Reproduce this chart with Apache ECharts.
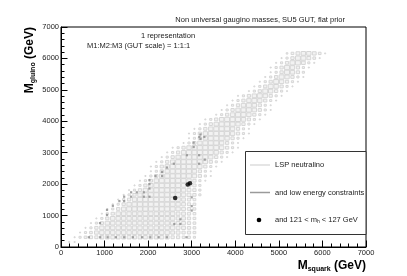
<!DOCTYPE html>
<html>
<head>
<meta charset="utf-8">
<script src="https://cdn.jsdelivr.net/npm/echarts@6/dist/echarts.min.js"></script>
<style>
html,body{margin:0;padding:0;background:#fff;}
#c{width:407px;height:276px;}
</style>
</head>
<body>
<div id="c"></div>
<script>
// ---- data ----
const xBinWidth = 125;   // GeV, squark-mass bin
const yBinWidth = 150;   // GeV, gluino-mass bin
const rowY = [160,310,460,610,760,910,1060,1210,1360,1510,1660,1810,1960,2110,2260,2410,2560,2710,2860,3010,3160,3310,3460,3610,3760,3910,4060,4210,4360,4510,4660,4810,4960,5110,5260,5410,5560,5710,5860,6010,6160];
const rowStart = [1,2,3,4,5,6,7,8,9,10,11,12,13,14,15,16,16,17,18,19,20,22,23,23,24,25,26,28,29,30,31,32,34,35,36,37,38,38,39,40,41];
// box size per bin (0-9), one string per row, starting at rowStart bin
const rowCells = [
 "22",
 "24566777777777777766554",
 "2457888888888888877665",
 "246888888888888887765",
 "24688888888888887765",
 "2468888888888887765",
 "246888889888887765",
 "24689999999998765",
 "2468999999998765",
 "246899999998765",
 "246899999998764",
 "24689999998764",
 "2468999998764",
 "2468999998642",
 "2468999998642",
 "246899998642",
 "2468999998642",
 "2468999998642",
 "2468999998642",
 "2468999998642",
 "2468999998642",
 "24689998642",
 "24689998642",
 "246899998642",
 "24689998642",
 "24689998642",
 "24689998642",
 "2468998642",
 "2468998642",
 "246898642",
 "246898642",
 "246898642",
 "24698642",
 "24698642",
 "24698642",
 "24698642",
 "2469864",
 "24698642",
 "24699742",
 "24699752",
 "35788752"
];
// "and low energy constraints" points
const lowX = [640,900,1070,1260,1450,1650,1860,2050,2240,2430,2880,
  895,1056,1056,1190,1340,1450,1450,1610,1610,1740,1900,1900,2030,2030,2030,2030,2170,2320,2320,2430,2590,2600,2740,2740,2890,3045,3045,3200,3200,3000,3000,3000,3170,3170,3300,3175,3290];
const lowY = [310,310,310,310,310,310,310,310,310,310,310,
  760,1180,1020,1310,1460,1600,1460,1740,1600,1740,1740,1600,2130,2000,1860,1600,2260,2390,2260,2530,2650,730,880,730,2920,3180,3320,3440,3580,1580,1300,1160,2650,2920,2780,3500,3500];
// "and 121 < m_h < 127 GeV" points
const higgsX = [2620, 2910, 2960];
const higgsY = [1560, 1990, 2030];
// axis ticks
const axisMin = 0, axisMax = 7000, axisStep = 1000;

// ---- build ----
const boxData = [];
rowCells.forEach((s, r) => {
  for (let i = 0; i < s.length; i++) {
    const d = +s[i];
    if (d > 0) boxData.push([(rowStart[r] + i) * xBinWidth + xBinWidth / 2, rowY[r], d]);
  }
});
const lowData = lowX.map((x, i) => [x, lowY[i]]);
const higgsData = higgsX.map((x, i) => [x, higgsY[i]]);

const FONT = "'Liberation Sans', Arial, Helvetica, sans-serif";
const chart = echarts.init(document.getElementById('c'), null, {renderer: 'canvas'});

const axisCommon = {
  type: 'value', min: axisMin, max: axisMax, interval: axisStep,
  axisLine: {show: true, lineStyle: {color: '#000', width: 1}},
  axisTick: {show: true, inside: true, length: 6.5, lineStyle: {color: '#000', width: 1}},
  minorTick: {show: true, splitNumber: 5, length: 3.5, lineStyle: {color: '#000', width: 1}},
  splitLine: {show: false},
  axisLabel: {fontFamily: FONT, fontSize: 7.5, color: '#222', margin: 2, formatter: v => String(v)}
};

chart.setOption({
  animation: false,
  backgroundColor: '#fff',
  grid: {left: 61, right: 41, top: 27, bottom: 29, show: true, borderColor: '#000', borderWidth: 1, backgroundColor: 'transparent'},
  xAxis: Object.assign({}, axisCommon),
  yAxis: Object.assign({}, axisCommon),
  series: [
    {
      type: 'custom',
      data: boxData,
      z: 2,
      renderItem: function (params, api) {
        const c = api.coord([api.value(0), api.value(1)]);
        const s = api.size([xBinWidth, yBinWidth]);
        const f = api.value(2) / 10;
        const w = s[0] * f, h = s[1] * f;
        return {
          type: 'rect',
          shape: {x: c[0] - w / 2, y: c[1] - h / 2, width: w, height: h},
          style: {fill: '#f2f2f2', stroke: '#d6d6d6', lineWidth: 1}
        };
      }
    },
    {
      type: 'scatter', data: lowData, symbol: 'rect', symbolSize: 2.2, z: 3,
      itemStyle: {color: '#8c8c8c'}
    },
    {
      type: 'scatter', data: higgsData, symbol: 'circle', symbolSize: 4.6, z: 4,
      itemStyle: {color: '#000'}
    }
  ],
  graphic: [
    {type: 'text', x: 345, y: 19.5, style: {text: 'Non universal gaugino masses, SU5 GUT, flat prior', font: '7.5px ' + FONT, fill: '#222', align: 'right', verticalAlign: 'middle'}},
    {type: 'text', x: 168, y: 35.5, style: {text: '1 representation', font: '7.5px ' + FONT, fill: '#222', align: 'center', verticalAlign: 'middle'}},
    {type: 'text', x: 87, y: 45.5, style: {text: 'M1:M2:M3 (GUT scale) = 1:1:1', font: '7.5px ' + FONT, fill: '#222', align: 'left', verticalAlign: 'middle'}},
    {type: 'text', x: 366, y: 266, style: {
      text: '{n|M}{s|squark}{n| (GeV)}', align: 'right', verticalAlign: 'middle',
      rich: {n: {font: 'bold 12px ' + FONT, lineHeight: 14, fill: '#000'}, s: {font: 'bold 7px ' + FONT, lineHeight: 7, verticalAlign: 'bottom', fill: '#000'}}
    }},
    {type: 'text', x: 30, y: 27, rotation: Math.PI / 2, style: {
      text: '{n|M}{s|gluino}{n| (GeV)}', align: 'right', verticalAlign: 'middle',
      rich: {n: {font: 'bold 12px ' + FONT, lineHeight: 14, fill: '#000'}, s: {font: 'bold 7px ' + FONT, lineHeight: 7, verticalAlign: 'bottom', fill: '#000'}}
    }},
    // legend box
    {type: 'rect', z: 100, shape: {x: 245.5, y: 151.5, width: 120.5, height: 83}, style: {fill: '#fff', stroke: '#333', lineWidth: 1}},
    {type: 'line', z: 101, shape: {x1: 250, y1: 165, x2: 270, y2: 165}, style: {stroke: '#dcdcdc', lineWidth: 1.5}},
    {type: 'text', z: 101, x: 275, y: 165, style: {text: 'LSP neutralino', font: '7.5px ' + FONT, fill: '#222', align: 'left', verticalAlign: 'middle'}},
    {type: 'line', z: 101, shape: {x1: 250, y1: 192.5, x2: 270, y2: 192.5}, style: {stroke: '#9a9a9a', lineWidth: 1.5}},
    {type: 'text', z: 101, x: 275, y: 192.5, style: {text: 'and low energy constraints', font: '7.5px ' + FONT, fill: '#222', align: 'left', verticalAlign: 'middle'}},
    {type: 'circle', z: 101, shape: {cx: 259, cy: 220, r: 2.3}, style: {fill: '#000'}},
    {type: 'text', z: 101, x: 275, y: 219.5, style: {
      text: '{n|and 121 < m}{s|h}{n| < 127 GeV}', align: 'left', verticalAlign: 'middle',
      rich: {n: {font: '7.5px ' + FONT, lineHeight: 9, fill: '#222'}, s: {font: '5px ' + FONT, lineHeight: 5, verticalAlign: 'bottom', fill: '#222'}}
    }}
  ]
});
</script>
</body>
</html>
